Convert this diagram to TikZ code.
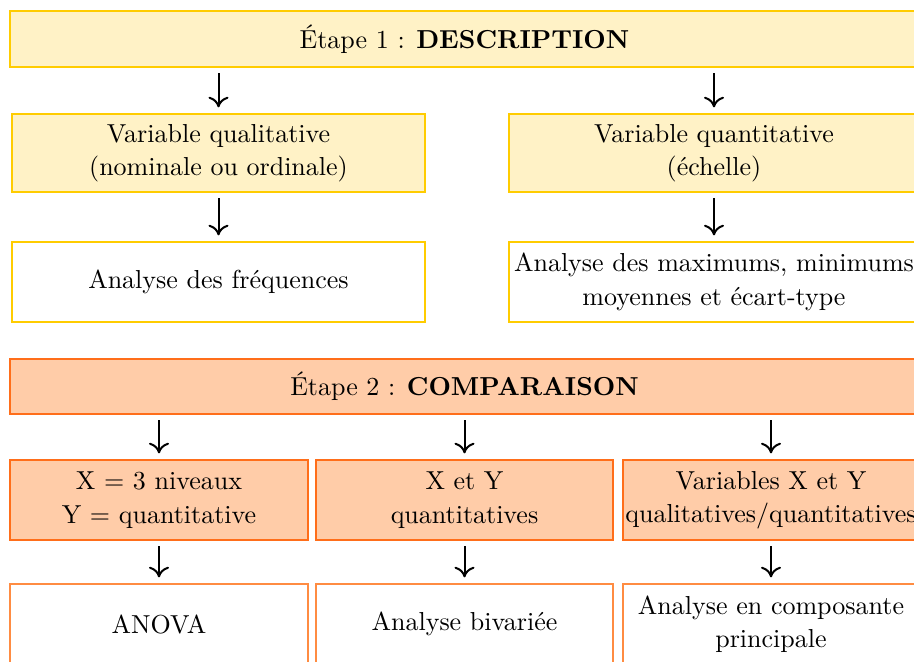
\documentclass[tikz,border=0pt]{standalone}
\usetikzlibrary{arrows.meta}
\definecolor{yborder}{HTML}{FFCC00}
\definecolor{yfill}{HTML}{FFF2C6}
\definecolor{oborder}{HTML}{FF6E1A}
\definecolor{ofill}{HTML}{FFCCA8}
\definecolor{oborderlight}{HTML}{FF8C42}
\tikzset{
  px/.style={x=0.375pt,y=-0.375pt},
  box/.style={rectangle, line width=0.55pt, align=center, inner xsep=0.5pt, inner ysep=1pt, font=\fontsize{9.75pt}{12.5pt}\selectfont},
  ybox/.style={box, draw=yborder, fill=yfill},
  ywbox/.style={box, draw=yborder, fill=white},
  obox/.style={box, draw=oborder, fill=ofill},
  owbox/.style={box, draw=oborderlight, fill=white},
  arr/.style={-{To[length=4pt,width=7.5pt]}, line width=0.75pt, black, shorten >=2.2pt, shorten <=2pt}
}
\begin{document}
\begin{tikzpicture}[px]
\useasboundingbox (0,0) rectangle (914,661);
\clip (0,0) rectangle (914,661);
% Step 1
\node[ybox, minimum width={909*0.375pt}, minimum height={56*0.375pt}] (s1) at (464.5,39) {\'Etape 1 : \textbf{DESCRIPTION}};
\node[ybox, minimum width={413*0.375pt}, minimum height={78*0.375pt}] (q1) at (218.5,153) {Variable qualitative\\(nominale ou ordinale)};
\node[ybox, minimum width={410*0.375pt}, minimum height={78*0.375pt}] (q2) at (714,153) {Variable quantitative\\(\'echelle)};
\node[ywbox, minimum width={413*0.375pt}, minimum height={80*0.375pt}] (a1) at (218.5,282) {Analyse des fr\'equences};
\node[ywbox, minimum width={410*0.375pt}, minimum height={80*0.375pt}] (a2) at (714,282) {Analyse des maximums, minimums\\moyennes et \'ecart-type};
% Step 2
\node[obox, minimum width={909*0.375pt}, minimum height={55*0.375pt}] (s2) at (464.5,386.5) {\'Etape 2 : \textbf{COMPARAISON}};
\node[obox, minimum width={298*0.375pt}, minimum height={80*0.375pt}] (c1) at (159,500) {X = 3 niveaux\\Y = quantitative};
\node[obox, minimum width={297*0.375pt}, minimum height={80*0.375pt}] (c2) at (464.5,500) {X et Y\\quantitatives};
\node[obox, minimum width={296*0.375pt}, minimum height={80*0.375pt}] (c3) at (771,500) {Variables X et Y\\qualitatives/quantitatives};
\node[owbox, minimum width={298*0.375pt}, minimum height={80*0.375pt}] (r1) at (159,624) {ANOVA};
\node[owbox, minimum width={297*0.375pt}, minimum height={80*0.375pt}] (r2) at (464.5,624) {Analyse bivari\'ee};
\node[owbox, minimum width={296*0.375pt}, minimum height={80*0.375pt}] (r3) at (771,624) {Analyse en composante\\principale};
% arrows
\draw[arr] (s1.south -| q1.north) -- (q1.north);
\draw[arr] (s1.south -| q2.north) -- (q2.north);
\draw[arr] (q1.south) -- (a1.north);
\draw[arr] (q2.south) -- (a2.north);
\draw[arr] (s2.south -| c1.north) -- (c1.north);
\draw[arr] (s2.south -| c2.north) -- (c2.north);
\draw[arr] (s2.south -| c3.north) -- (c3.north);
\draw[arr] (c1.south) -- (r1.north);
\draw[arr] (c2.south) -- (r2.north);
\draw[arr] (c3.south) -- (r3.north);
\end{tikzpicture}
\end{document}
